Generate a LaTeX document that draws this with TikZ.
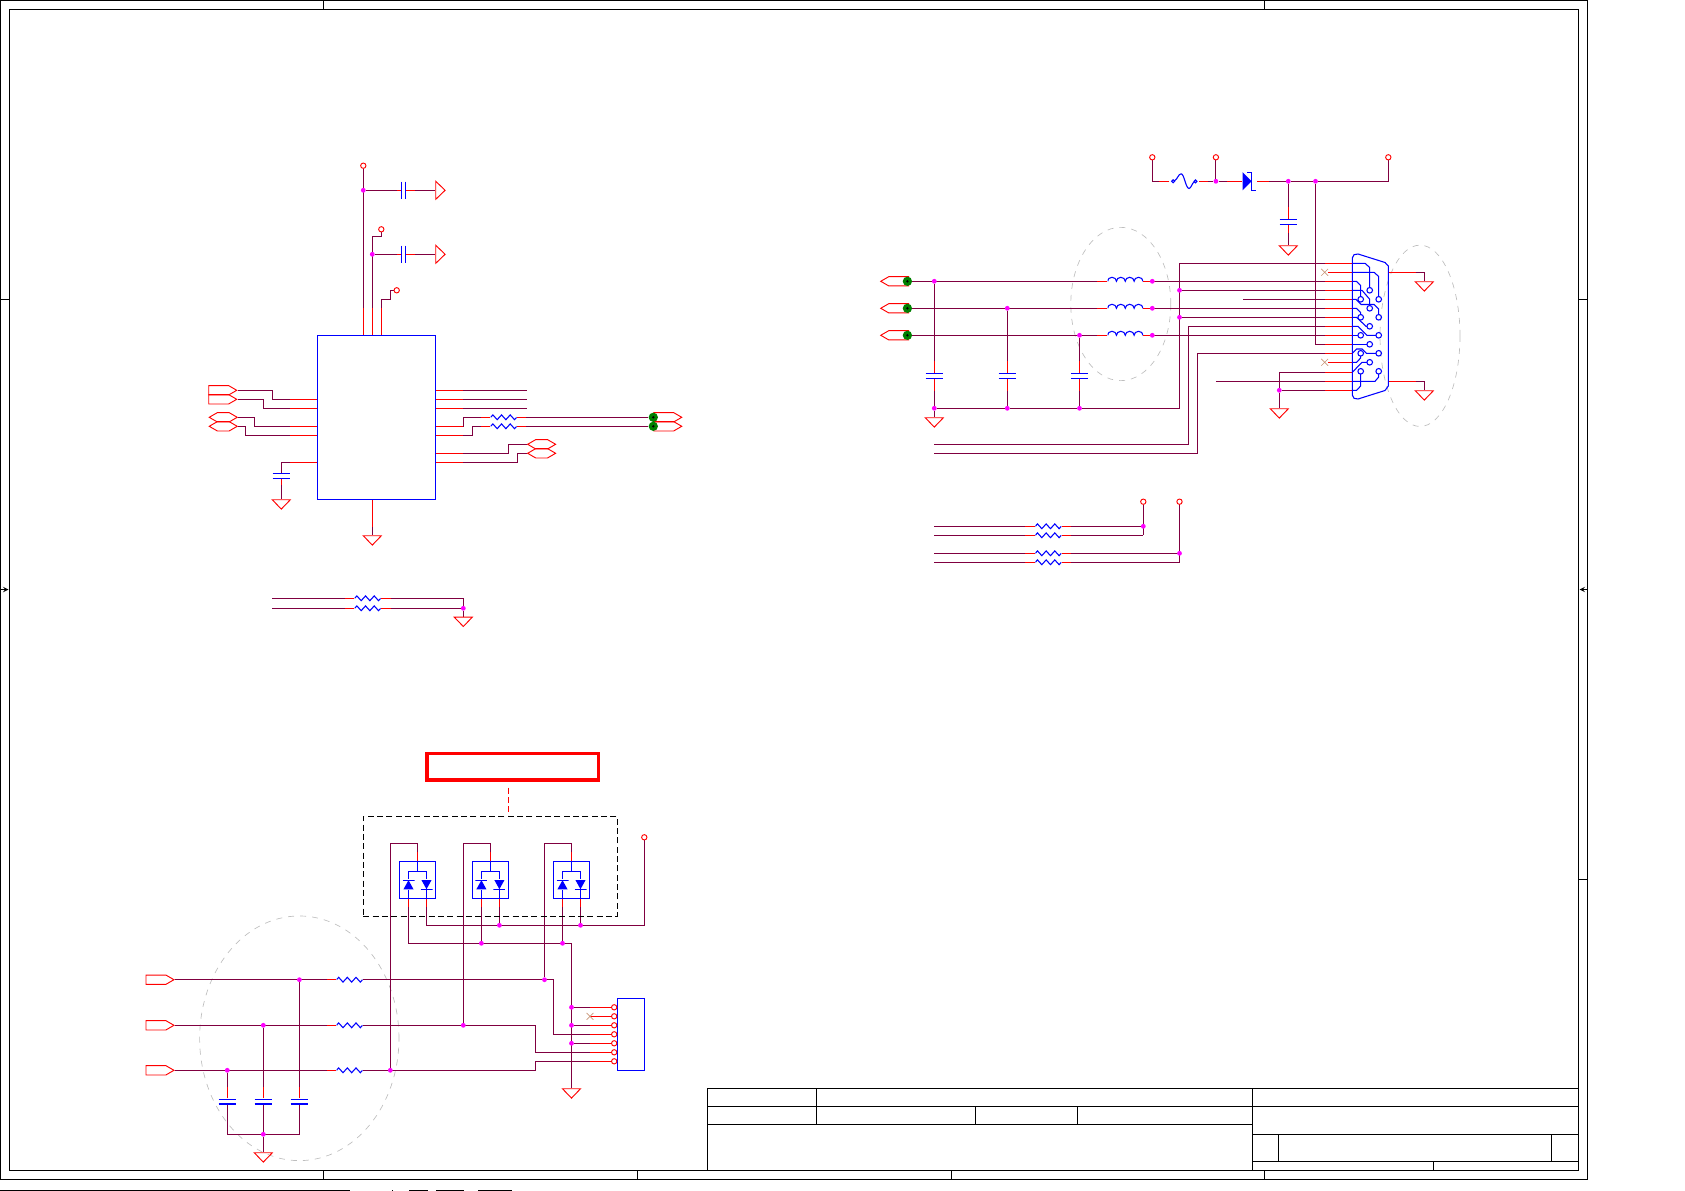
\documentclass[tikz,border=0pt]{standalone}
\usepackage{xcolor}
\usetikzlibrary{shapes.geometric, shapes.symbols, shapes.misc, decorations.pathmorphing, backgrounds}
\definecolor{wirepurple}{RGB}{128, 0, 64}
\definecolor{partblue}{RGB}{0, 0, 255}
\definecolor{pinred}{RGB}{255, 0, 0}
\definecolor{dotmagenta}{RGB}{255, 0, 255}
\definecolor{dotgreen}{RGB}{0, 128, 0}
\definecolor{halogray}{RGB}{190, 190, 190}
\definecolor{nctan}{RGB}{200, 150, 120}

\begin{document}
\begin{tikzpicture}[
                x=0.75pt, y=-0.75pt,
                % wires and pin ends
                wire/.style={color=wirepurple, line width=0.8pt},
                stub/.style={color=pinred, line width=0.8pt},
                part/.style={color=partblue, line width=0.8pt},
                sheet/.style={color=black, line width=0.8pt},
                % small dots and terminals
                jct/.style={circle, fill=dotmagenta, minimum size=3.6pt, inner sep=0pt},
                testpt/.style={circle, fill=dotgreen, minimum size=7pt, inner sep=0pt,
                    path picture={\fill[black] (path picture bounding box.center) circle (1pt);}},
                pwr/.style={circle, draw=pinred, fill=white, line width=0.7pt, minimum size=4pt, inner sep=0pt},
                ncmark/.style={cross out, draw=nctan, line width=0.5pt, minimum size=4.6pt, inner sep=0pt},
                % grounds
                gnd/.style={isosceles triangle, isosceles triangle stretches, draw=pinred, line width=0.7pt,
                    shape border rotate=270, minimum width=13.5pt, minimum height=7pt, inner sep=0pt, anchor=lower side},
                gndr/.style={gnd, shape border rotate=0},
                % hierarchical ports
                portr/.style={signal, signal to=east, signal pointer angle=60, draw=pinred, line width=0.7pt,
                    minimum width=21pt, minimum height=7pt, inner sep=0pt},
                porth/.style={portr, signal to=east and west},
                portl/.style={portr, signal to=west},
                % parts
                ic/.style={rectangle, draw=partblue, line width=0.8pt, inner sep=0pt},
                capv/.style={rectangle, minimum width=13pt, minimum height=4.4pt, inner sep=0pt,
                    path picture={
                        \draw[part] ([yshift=-0.4pt]path picture bounding box.north west) -- ([yshift=-0.4pt]path picture bounding box.north east);
                        \draw[part] ([yshift=0.4pt]path picture bounding box.south west) -- ([yshift=0.4pt]path picture bounding box.south east);}},
                caph/.style={rectangle, minimum width=4pt, minimum height=13pt, inner sep=0pt,
                    path picture={
                        \draw[part] ([xshift=0.4pt]path picture bounding box.north west) -- ([xshift=0.4pt]path picture bounding box.south west);
                        \draw[part] ([xshift=-0.4pt]path picture bounding box.north east) -- ([xshift=-0.4pt]path picture bounding box.south east);}},
                res/.style={rectangle, minimum width=19.5pt, minimum height=6pt, inner sep=0pt,
                    path picture={\draw[part, decorate, decoration={zigzag, segment length=6.5pt, amplitude=1.8pt}]
                        (path picture bounding box.west) -- (path picture bounding box.east);}},
                ind/.style={rectangle, minimum width=26.6pt, minimum height=9pt, inner sep=0pt,
                    path picture={\draw[part] (path picture bounding box.west)
                        arc[start angle=180, end angle=0, x radius=3.32pt, y radius=3pt]
                        arc[start angle=180, end angle=0, x radius=3.32pt, y radius=3pt]
                        arc[start angle=180, end angle=0, x radius=3.32pt, y radius=3pt]
                        arc[start angle=180, end angle=0, x radius=3.32pt, y radius=3pt];}},
                fuse/.style={rectangle, minimum width=22pt, minimum height=13pt, inner sep=0pt,
                    path picture={\draw[part, shift={(path picture bounding box.center)}]
                        (-8.4pt,0pt) circle (1.1pt) (8.4pt,0pt) circle (1.1pt)
                        (-7.4pt,0.4pt) .. controls (-5pt,1.5pt) and (-4.5pt,5.6pt) .. (-2.4pt,5.6pt)
                        .. controls (0pt,5.6pt) and (1pt,-5.4pt) .. (3.6pt,-5.4pt)
                        .. controls (5pt,-5.4pt) and (6pt,-1pt) .. (7.4pt,-0.4pt);}},
                tvsup/.style={rectangle, minimum width=9pt, minimum height=7.6pt, inner sep=0pt,
                    path picture={\begin{scope}[shift={(path picture bounding box.center)}]
                        \fill[partblue] (-3.8pt,-3.5pt) -- (3.8pt,-3.5pt) -- (0pt,3.4pt) -- cycle;
                        \draw[part] (-4.5pt,3.4pt) -- (4.5pt,3.4pt);\end{scope}}},
                tvsdn/.style={rectangle, minimum width=9pt, minimum height=7.6pt, inner sep=0pt,
                    path picture={\begin{scope}[shift={(path picture bounding box.center)}]
                        \fill[partblue] (-3.8pt,3.5pt) -- (3.8pt,3.5pt) -- (0pt,-3.4pt) -- cycle;
                        \draw[part] (-4.5pt,-3.4pt) -- (4.5pt,-3.4pt);\end{scope}}},
                zener/.style={rectangle, minimum width=11pt, minimum height=14pt, inner sep=0pt,
                    path picture={\begin{scope}[shift={(path picture bounding box.center)}]
                        \fill[partblue] (-5.2pt,6.8pt) -- (1.6pt,0pt) -- (-5.2pt,-6.8pt) -- cycle;
                        \draw[part] (-1.6pt,6.7pt) -- (1.6pt,6.7pt) -- (1.6pt,-6.7pt) -- (4.8pt,-6.7pt);\end{scope}}},
                % marks
                halo/.style={ellipse, draw=halogray, line width=0.5pt, dash pattern=on 4.5pt off 4.5pt, inner sep=0pt},
                notebox/.style={rectangle, draw=pinred, line width=2.4pt, inner sep=0pt, minimum width=128.5pt, minimum height=20pt},
                groupbox/.style={rectangle, draw=black, line width=0.8pt, dash pattern=on 4.5pt off 2.5pt, inner sep=0pt,
                    minimum width=190.5pt, minimum height=74.8pt}
            ]
                \useasboundingbox (0,0) rectangle (1685,1191);

                % 1. Sheet frame and title block
                \draw[sheet] (0.5,0.5) rectangle (1587.5,1179.3);
                \draw[sheet] (9.5,9.5) rectangle (1578.3,1170.3);
                \foreach \tx in {323.4,1264.3} \draw[sheet] (\tx,0.5) -- (\tx,9.5);
                \foreach \tx in {323.4,637.3,951.4,1264.3} \draw[sheet] (\tx,1170.3) -- (\tx,1179.3);
                \draw[sheet] (0.5,299.3) -- (9.5,299.3);
                \foreach \ty in {299.3,879.3} \draw[sheet] (1578.3,\ty) -- (1587.5,\ty);
                \draw[sheet, ->, >=stealth] (0.5,589.5) -- (8.5,589.5);
                \draw[sheet, ->, >=stealth] (1587.5,589.5) -- (1579.5,589.5);
                \draw[sheet] (707.3,1170.3) -- (707.3,1088.3) -- (1578.3,1088.3);
                \draw[sheet] (707.3,1106.3) -- (1578.3,1106.3);
                \draw[sheet] (707.3,1124.3) -- (1252.3,1124.3);
                \draw[sheet] (1252.3,1134.3) -- (1578.3,1134.3);
                \draw[sheet] (1252.3,1161.3) -- (1578.3,1161.3);
                \draw[sheet] (816.3,1088.3) -- (816.3,1124.3);
                \draw[sheet] (975.5,1106.3) -- (975.5,1124.3);
                \draw[sheet] (1077.5,1106.3) -- (1077.5,1124.3);
                \draw[sheet] (1252.3,1088.3) -- (1252.3,1170.3);
                \draw[sheet] (1278.5,1134.3) -- (1278.5,1161.3);
                \draw[sheet] (1551.3,1134.3) -- (1551.3,1161.3);
                \draw[sheet] (1433.3,1161.3) -- (1433.3,1170.3);
                \draw[sheet] (0,1190.5) -- (350,1190.5) (392,1190.5) -- (393,1190.5) (409,1190.5) -- (428,1190.5)
                    (436,1190.5) -- (464,1190.5) (478,1190.5) -- (512,1190.5);

                % 2. Upper left IC
                \node[ic, minimum width=88.5pt, minimum height=123pt] (icmain) at (376.3,417.3) {};
                \node[pwr] (vcca) at (363.3,165.7) {};
                \node[pwr] (vccb) at (381.3,229.3) {};
                \node[pwr] (vccc) at (396.7,290.3) {};
                \node[jct] (ja) at (363.3,190.3) {};
                \node[jct] (jb) at (372.3,254.3) {};
                \node[caph] (ca) at (403.5,190.3) {};
                \node[caph] (cb) at (403.5,254.3) {};
                \node[gndr] (ga) at (435.3,190.3) {};
                \node[gndr] (gb) at (435.3,254.3) {};
                \node[capv] (cc) at (281.3,475.8) {};
                \node[gnd] (gc) at (281.3,499.3) {};
                \node[gnd] (gd) at (372.3,535.3) {};
                \node[portr, anchor=west] (pa) at (208.3,390.3) {};
                \node[portr, anchor=west] (pb) at (208.3,399.3) {};
                \node[porth, anchor=west] (pc) at (208.3,417.3) {};
                \node[porth, anchor=west] (pd) at (208.3,426.3) {};
                \node[res] (ra) at (503.7,417.3) {};
                \node[res] (rb) at (503.7,426.3) {};
                \node[portr, anchor=west] (pe) at (653.3,417.3) {};
                \node[portr, anchor=west] (pf) at (653.3,426.3) {};
                \node[porth, anchor=west] (pg) at (526.7,444.3) {};
                \node[porth, anchor=west] (ph) at (526.7,453.3) {};
                \node[testpt] (tpa) at (653.3,417.3) {};
                \node[testpt] (tpb) at (653.3,426.3) {};
                \foreach \n/\px in {a/363.3, b/372.3, c/381.3} \coordinate (ict\n) at (\px,335.3);
                \foreach \n/\py in {a/399.3, b/408.3, c/426.3, d/435.3, e/462.3} \coordinate (icl\n) at (317.3,\py);
                \foreach \n/\py in {a/390.3, b/399.3, c/408.3, d/426.3, e/435.3, f/453.3, g/462.3} \coordinate (icr\n) at (435.3,\py);

                % 3. Lower resistors
                \node[res] (rc) at (367.7,598.3) {};
                \node[res] (rd) at (367.7,608.3) {};
                \node[jct] (jc) at (463.3,608.3) {};
                \node[gnd] (ge) at (463.3,616.7) {};
                \coordinate (wa) at (272.3,598.3);
                \coordinate (wb) at (272.3,608.3);

                % 4. Upper right power and connector
                \node[pwr] (vccd) at (1152.3,157.3) {};
                \node[pwr] (vcce) at (1215.9,157.3) {};
                \node[pwr] (vccf) at (1388.3,157.3) {};
                \node[fuse] (fa) at (1184.3,181.3) {};
                \node[zener] (da) at (1249.5,181.3) {};
                \node[jct] (jd) at (1215.9,181.3) {};
                \node[jct] (je) at (1288.3,181.3) {};
                \node[jct] (jf) at (1315.5,181.3) {};
                \node[capv] (cd) at (1288.3,221.8) {};
                \node[gnd] (gf) at (1288.3,245.3) {};
                \foreach \n/\py in {a/281.3, b/308.3, c/335.3} {
                    \node[portl, anchor=west] (pl\n) at (879.8,\py) {};
                    \node[testpt] (tl\n) at (907.4,\py) {};
                    \node[ind] (l\n) at (1125.3,\py) {};
                    \node[jct] (jl\n) at (1152.3,\py) {};
                }
                \node[jct] (jg) at (934.3,281.3) {};
                \node[jct] (jh) at (1007.3,308.3) {};
                \node[jct] (ji) at (1079.5,335.3) {};
                \foreach \n/\px in {e/934.3, f/1007.3, g/1079.5} {
                    \node[capv] (c\n) at (\px,376) {};
                    \node[jct] (jb\n) at (\px,408.3) {};
                }
                \node[gnd] (gg) at (934.3,417.3) {};
                \node[jct] (jj) at (1179.5,290.3) {};
                \node[jct] (jk) at (1179.5,317.3) {};
                \node[jct] (jm) at (1279.3,390.3) {};
                \node[gnd] (gh) at (1279.3,408.3) {};
                \node[gnd] (gi) at (1424.3,281.3) {};
                \node[gnd] (gj) at (1424.3,390.3) {};
                \node[ncmark] (nca) at (1324.7,272.3) {};
                \node[ncmark] (ncb) at (1324.7,362.3) {};
                \foreach \n/\py in {a/263.3, b/272.3, c/281.3, d/290.3, e/299.3, f/308.3, g/317.3, h/326.3,
                    i/335.3, j/344.3, k/353.3, m/362.3, n/372.3, o/381.3, q/390.3} \coordinate (db\n) at (1352.3,\py);
                \coordinate (dbsa) at (1388.3,272.3);
                \coordinate (dbsb) at (1388.3,381.3);

                % connector shell, pins and its inner traces
                \draw[part] (1352.3,258) .. controls (1352.3,255) and (1355,253.5) .. (1358,254) -- (1385,262.5)
                    -- (1388.3,266) -- (1388.3,386) -- (1385,390.5) -- (1358,399)
                    .. controls (1355,399.5) and (1352.3,398) .. (1352.3,395) -- cycle;
                \foreach \ox/\oy in {1369.7/290.3, 1360.7/299.3, 1378.7/299.3, 1369.7/308.3, 1360.7/317.3, 1378.7/317.3,
                    1369.7/326.3, 1360.7/335.3, 1378.7/335.3, 1369.7/344.3, 1360.7/353.3, 1378.7/353.3,
                    1369.7/362.3, 1360.7/371.3, 1378.7/371.3}
                    \draw[part] (\ox,\oy) circle (2.8);
                \draw[part] (dba) -- (1365,263.3) -- (1369.7,267.5) -- (1369.7,287.5);
                \draw[part] (dbb) -- (1374,272.3) -- (1378.7,276.5) -- (1378.7,296.5);
                \draw[part] (dbc) -- (1356.5,281.3) -- (1360.7,285.5) -- (1360.7,296.5);
                \draw[part] (dbd) -- (1362,290.3) -- (1369.7,299.3) -- (1369.7,305.5);
                \draw[part] (dbe) -- (1356,299.3) -- (1361,304.5) -- (1374,304.5) -- (1378.7,309) -- (1378.7,314.5);
                \draw[part] (dbf) -- (1356.5,308.3) -- (1360.7,312.5) -- (1360.7,314.5);
                \draw[part] (dbg) -- (1356.5,317.3) -- (1366,326.3) -- (1366.9,326.3);
                \draw[part] (dbh) -- (1358,326.3) -- (1367,335.3) -- (1375.9,335.3);
                \draw[part] (dbi) -- (1357.9,335.3);
                \draw[part] (dbj) -- (1366.9,344.3);
                \draw[part] (dbk) -- (1356.5,349) -- (1362,349) -- (1366.5,353.3) -- (1375.9,353.3);
                \draw[part] (dbm) -- (1356.5,362.3) -- (1360.7,358) -- (1360.7,356.1);
                \draw[part] (dbn) -- (1362,362.3) -- (1366.9,362.3);
                \draw[part] (dbo) -- (1375,381.3) -- (1378.7,377) -- (1378.7,374.1);
                \draw[part] (dbq) -- (1356.5,390.3) -- (1360.7,386) -- (1360.7,374.1);

                % 5. Pull-up resistors
                \node[pwr] (vccg) at (1143.3,501.7) {};
                \node[pwr] (vcch) at (1179.5,501.7) {};
                \foreach \n/\py in {e/526.3, f/535.3, g/553.3, h/562.3} {
                    \node[res] (r\n) at (1048.3,\py) {};
                    \coordinate (w\n) at (934.3,\py);
                }
                \node[jct] (jn) at (1143.3,526.3) {};
                \node[jct] (jo) at (1179.5,553.3) {};

                % 6. Lower left protection group
                \node[notebox] (note) at (512.7,766.7) {};
                \node[groupbox] (tvsgroup) at (490.3,866.2) {};
                \coordinate (notelead) at (508.3,787.7);
                \coordinate (groupedge) at (508.3,816.3);
                \foreach \i/\cx in {1/417.5, 2/490.4, 3/571.5} {
                    \node[ic, minimum width=27pt, minimum height=27.8pt] (tvs\i) at (\cx,879.8) {};
                    \node[tvsup] (du\i) at (\cx-9,884.7) {};
                    \node[tvsdn] (dd\i) at (\cx+9,884.7) {};
                    \draw[part] (tvs\i.north) -- (\cx,871.3) (\cx-9,871.3) -- (\cx+9,871.3) (\cx-9,871.3) -- (du\i.north) (\cx+9,871.3) -- (dd\i.north);
                    \draw[part] (du\i.south) -- (\cx-9,898.3) (dd\i.south) -- (\cx+9,898.3);
                }
                \node[pwr] (vcci) at (644.3,837.3) {};
                \node[jct] (jqa) at (499.4,925.3) {};
                \node[jct] (jqb) at (580.5,925.3) {};
                \node[jct] (jqc) at (481.4,943.3) {};
                \node[jct] (jqd) at (562.5,943.3) {};
                \foreach \n/\py in {a/979.7, b/1025.3, c/1070.3} {
                    \node[portr, anchor=west] (pq\n) at (145.5,\py) {};
                    \node[res] (rq\n) at (349.5,\py) {};
                }
                \node[jct] (jra) at (299.4,979.7) {};
                \node[jct] (jrb) at (263.3,1025.3) {};
                \node[jct] (jrc) at (227.3,1070.3) {};
                \node[jct] (jsa) at (544.5,979.7) {};
                \node[jct] (jsb) at (463.3,1025.3) {};
                \node[jct] (jsc) at (390.3,1070.3) {};
                \foreach \n/\px in {a/299.4, b/263.3, c/227.3} \node[capv] (cq\n) at (\px,1101.6) {};
                \node[jct] (jt) at (263.3,1134.3) {};
                \node[gnd] (gk) at (263.3,1152.3) {};
                \node[gnd] (gm) at (571.5,1088.3) {};
                \node[jct] (jua) at (571.5,1007.3) {};
                \node[jct] (jub) at (571.5,1025.3) {};
                \node[jct] (juc) at (571.5,1043.3) {};
                \node[ic, minimum width=20.4pt, minimum height=54pt] (hdr) at (630.9,1034.3) {};
                \foreach \n/\py in {a/1007.3, b/1016.3, c/1025.3, d/1034.3, e/1043.3, f/1052.3, g/1061.3}
                    \node[pwr] (h\n) at (614.2,\py) {};
                \node[ncmark] (ncc) at (590,1016.3) {};

                \begin{scope}[on background layer]
                % dashed halos
                \node[halo, minimum width=75pt, minimum height=115pt] (haloa) at (1120.8,304) {};
                \node[halo, minimum width=60pt, minimum height=136pt] (halob) at (1420,335.8) {};
                \node[halo, minimum width=149.5pt, minimum height=183.5pt] (haloc) at (299.3,1038.3) {};

                % IC power
                \draw[wire] (vcca) -- (icta);
                \draw[wire] (vccb) -- (381.3,236.3) -- (372.3,236.3) -- (ictb);
                \draw[wire] (vccc) -- (390.3,290.3) -- (390.3,299.3) -- (381.3,299.3) -- (ictc);
                \foreach \n in {a,b,c} \draw[stub] (ict\n) -- ++(0,-27);
                \draw[wire] (ja) -- (ca.west);
                \draw[stub] (ca.west) -- ++(-4,0);
                \draw[wire] (ca.east) -- (ga.lower side);
                \draw[stub] (ca.east) -- ++(9,0);
                \draw[wire] (jb) -- (cb.west);
                \draw[stub] (cb.west) -- ++(-4,0);
                \draw[wire] (cb.east) -- (gb.lower side);
                \draw[stub] (cb.east) -- ++(9,0);

                % IC left side
                \draw[wire] (pa.east) -- (272.3,390.3) -- (272.3,399.3) -- (icla);
                \draw[wire] (pb.east) -- (263.3,399.3) -- (263.3,408.3) -- (iclb);
                \draw[wire] (pc.east) -- (254.3,417.3) -- (254.3,426.3) -- (iclc);
                \draw[wire] (pd.east) -- (245.3,426.3) -- (245.3,435.3) -- (icld);
                \foreach \n in {a,b,c,d,e} \draw[stub] (icl\n) -- ++(-27,0);
                \draw[wire] (290.3,462.3) -- (281.3,462.3) -- (cc.north);
                \draw[wire] (cc.south) -- (gc.lower side);
                \draw[stub] (cc.south) -- ++(0,6);
                \draw[wire] (icmain.south -| gd) -- (gd.lower side);
                \draw[stub] (icmain.south -| gd) -- ++(0,27);

                % IC right side
                \foreach \n in {a,b,c} {
                    \draw[wire] (icr\n) -- ++(91.4,0);
                    \draw[stub] (icr\n) -- ++(28,0);
                }
                \draw[wire] (icrd) -- (463.3,426.3) -- (463.3,417.3) -- (ra.west);
                \draw[stub] (icrd) -- ++(28,0);
                \draw[stub] (ra.west) -- ++(-9,0);
                \draw[wire] (icre) -- (472.3,435.3) -- (472.3,426.3) -- (rb.west);
                \draw[stub] (icre) -- ++(28,0);
                \draw[stub] (rb.west) -- ++(-9,0);
                \draw[wire] (ra.east) -- (tpa);
                \draw[wire] (rb.east) -- (tpb);
                \draw[stub] (ra.east) -- ++(9,0);
                \draw[stub] (rb.east) -- ++(9,0);
                \draw[wire] (icrf) -- (508.3,453.3) -- (508.3,444.3) -- (pg.west);
                \draw[stub] (icrf) -- ++(28,0);
                \draw[wire] (icrg) -- (517.3,462.3) -- (517.3,453.3) -- (ph.west);
                \draw[stub] (icrg) -- ++(28,0);

                % lower resistors
                \draw[wire] (wa) -- (rc.west);
                \draw[wire] (wb) -- (rd.west);
                \draw[wire] (rc.east) -- (463.3,598.3) -- (jc);
                \draw[wire] (rd.east) -- (jc);
                \draw[wire] (jc) -- (ge.lower side);
                \foreach \n in {c,d} {
                    \draw[stub] (r\n.west) -- ++(-9.5,0);
                    \draw[stub] (r\n.east) -- ++(10,0);
                }

                % power input
                \draw[wire] (vccd) -- (1152.3,181.3) -- (fa.west);
                \draw[stub] (fa.west) -- ++(-10,0);
                \draw[wire] (fa.east) -- (jd);
                \draw[stub] (fa.east) -- ++(9,0);
                \draw[wire] (vcce) -- (jd);
                \draw[wire] (jd) -- (da.west);
                \draw[stub] (da.west) -- ++(-15,0);
                \draw[wire] (da.east) -- (je);
                \draw[stub] (da.east) -- ++(12,0);
                \draw[wire] (je) -- (jf);
                \draw[wire] (jf) -- (1388.3,181.3) -- (vccf);
                \draw[wire] (je) -- (cd.north);
                \draw[stub] (cd.north) -- ++(0,-12);
                \draw[wire] (cd.south) -- (gf.lower side);
                \draw[stub] (cd.south) -- ++(0,8);
                \draw[wire] (jf) -- (1315.5,344.3) -- (dbj);

                % colour signals through the coils
                \foreach \n/\py in {a/281.3, b/308.3, c/335.3} {
                    \draw[wire] (tl\n) -- (l\n.west);
                    \draw[stub] (l\n.west) -- ++(-10,0);
                    \draw[stub] (l\n.east) -- ++(12,0);
                    \draw[wire] (jl\n) -- (1352.3,\py);
                }
                \draw[wire] (jg) -- (ce.north);
                \draw[wire] (jh) -- (cf.north);
                \draw[wire] (ji) -- (cg.north);
                \foreach \n in {e,f,g} {
                    \draw[stub] (c\n.north) -- ++(0,-12);
                    \draw[wire] (c\n.south) -- (jb\n);
                    \draw[stub] (c\n.south) -- ++(0,12);
                }
                \draw[wire] (jbe) -- (gg.lower side);
                \draw[wire] (jbe) -- (jbf);
                \draw[wire] (jbf) -- (jbg);
                \draw[wire] (jbg) -- (1179.5,408.3) -- (1179.5,263.3) -- (dba);
                \draw[wire] (jj) -- (dbd);
                \draw[wire] (jk) -- (dbg);
                \draw[wire] (1243.2,299.3) -- (dbe);
                \draw[wire] (934.3,444.3) -- (1188.5,444.3) -- (1188.5,326.3) -- (dbh);
                \draw[wire] (934.3,453.3) -- (1197.3,453.3) -- (1197.3,353.3) -- (dbk);
                \draw[wire] (1279.3,372.3) -- (dbn);
                \draw[wire] (1279.3,372.3) -- (jm);
                \draw[wire] (jm) -- (gh.lower side);
                \draw[wire] (jm) -- (dbq);
                \draw[wire] (1215.9,381.3) -- (dbo);
                \foreach \n in {a,c,d,e,f,g,h,i,j,k,n,o,q} \draw[stub] (db\n) -- ++(-27.6,0);
                \draw[stub] (nca) -- (dbb);
                \draw[stub] (ncb) -- (dbm);
                \draw[wire] (dbsa) -- (1424.3,272.3) -- (gi.lower side);
                \draw[stub] (dbsa) -- ++(27.4,0);
                \draw[wire] (dbsb) -- (1424.3,381.3) -- (gj.lower side);
                \draw[stub] (dbsb) -- ++(27.4,0);

                % pull-ups
                \draw[wire] (vccg) -- (1143.3,535.3);
                \draw[wire] (vcch) -- (1179.5,562.3);
                \foreach \n/\px/\py in {e/1143.3/526.3, f/1143.3/535.3, g/1179.5/553.3, h/1179.5/562.3} {
                    \draw[wire] (w\n) -- (r\n.west);
                    \draw[wire] (r\n.east) -- (\px,\py);
                    \draw[stub] (r\n.west) -- ++(-10,0);
                    \draw[stub] (r\n.east) -- ++(9,0);
                }

                % protection group
                \draw[stub, dash pattern=on 4.5pt off 2.5pt] (notelead) -- (groupedge);
                \foreach \i/\cx in {1/417.5, 2/490.4, 3/571.5} {
                    \draw[stub] (tvs\i.north) -- ++(0,-9);
                    \draw[stub] (\cx-9,898.3) -- ++(0,9);
                    \draw[stub] (\cx+9,898.3) -- ++(0,9);
                }
                \draw[wire] (417.5,852.3) -- (417.5,843.3) -- (390.3,843.3) -- (jsc);
                \draw[wire] (490.4,852.3) -- (490.4,843.3) -- (463.3,843.3) -- (jsb);
                \draw[wire] (571.5,852.3) -- (571.5,843.3) -- (544.5,843.3) -- (jsa);
                \draw[wire] (426.5,907) -- (426.5,925.3) -- (644.3,925.3) -- (vcci);
                \draw[wire] (499.4,907) -- (jqa);
                \draw[wire] (580.5,907) -- (jqb);
                \draw[wire] (408.5,907) -- (408.5,943.3) -- (571.5,943.3) -- (gm.lower side);
                \draw[wire] (481.4,907) -- (jqc);
                \draw[wire] (562.5,907) -- (jqd);
                \foreach \n in {a,b,c} {
                    \draw[wire] (pq\n.east) -- (rq\n.west);
                    \draw[stub] (rq\n.west) -- ++(-9,0);
                    \draw[stub] (rq\n.east) -- ++(9,0);
                    \draw[wire] (jr\n) -- (cq\n.north);
                    \draw[stub] (cq\n.north) -- ++(0,-11);
                    \draw[stub] (cq\n.south) -- ++(0,13);
                }
                \draw[wire] (rqa.east) -- (553.2,979.7) -- (553.2,1034.3) -- (hd);
                \draw[wire] (rqb.east) -- (535.3,1025.3) -- (535.3,1052.3) -- (hf);
                \draw[wire] (rqc.east) -- (535.3,1070.3) -- (535.3,1061.3) -- (hg);
                \draw[wire] (jua) -- (ha);
                \draw[wire] (jub) -- (hc);
                \draw[wire] (juc) -- (he);
                \foreach \n/\py in {a/1007.3, b/1016.3, c/1025.3, d/1034.3, e/1043.3, f/1052.3, g/1061.3}
                    \draw[stub] (590,\py) -- (h\n);
                \draw[wire] (cqc.south) -- (227.3,1134.3) -- (299.4,1134.3) -- (cqa.south);
                \draw[wire] (cqb.south) -- (jt);
                \draw[wire] (jt) -- (gk.lower side);
                \end{scope}

            \end{tikzpicture}
\end{document}
